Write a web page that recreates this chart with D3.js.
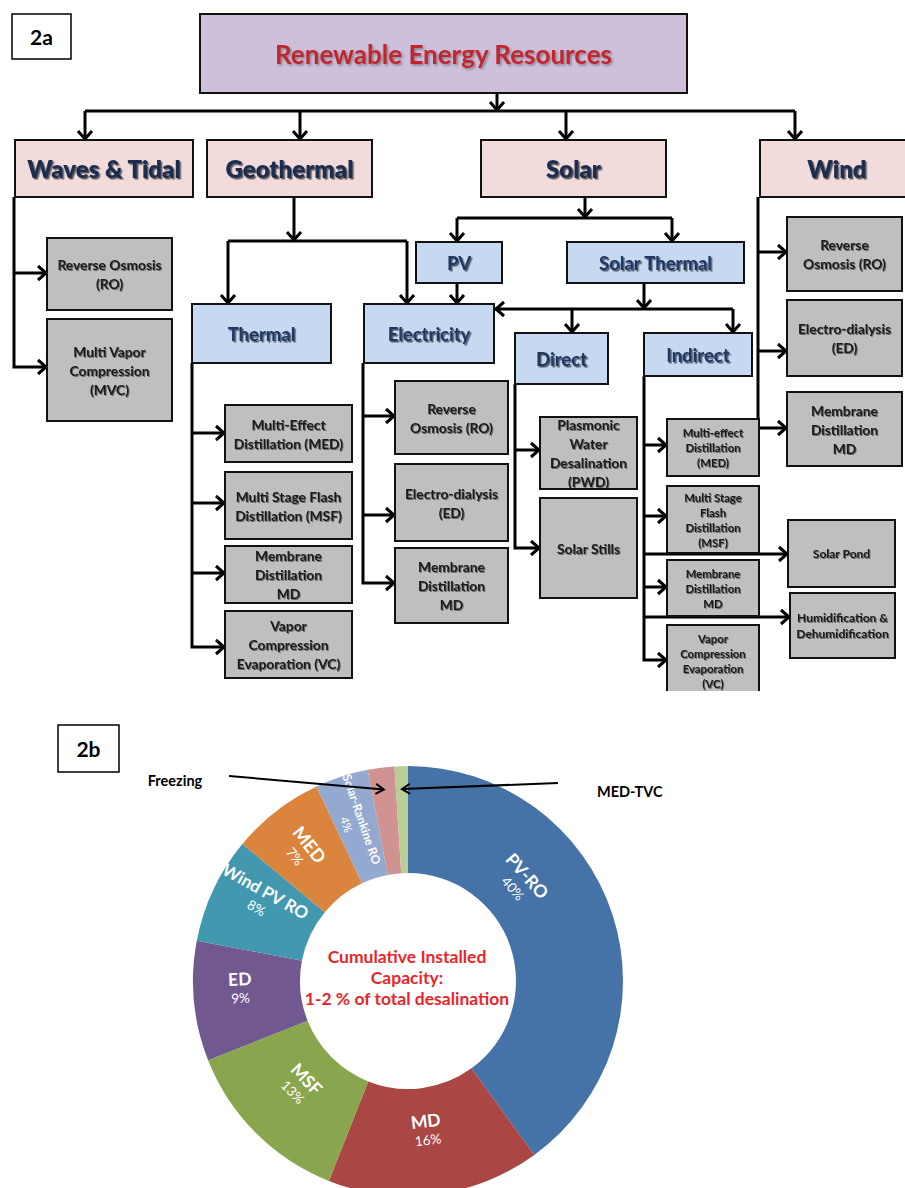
<!DOCTYPE html>
<html><head><meta charset="utf-8">
<script src="https://cdn.jsdelivr.net/npm/d3@7"></script>
<style>
html,body{margin:0;padding:0;background:#fff;}
svg{display:block;font-family:Lato,"Open Sans",sans-serif;}
</style></head><body>
<svg id="fig" width="905" height="1188"></svg>
<script>
// ---------------- Panel 2b data ----------------
const techs  = ["PV-RO","MD","MSF","ED","Wind PV RO","MED","Solar-Rankine RO","Freezing","MED-TVC"];
const shares = [40,16,13,9,8,7,4,2,1];
const sliceColors = ["#4572A7","#AA4643","#89A54E","#71588F","#4198AF","#DB843D","#93A9CF","#D19392","#B9CD96"];
const centerLines = ["Cumulative Installed","Capacity:","1-2 % of total desalination"];
const calloutNames = ["Freezing","MED-TVC"];

// ---------------- Panel 2a data ----------------
const rootLabel = "Renewable Energy Resources";
const sourceLabels = ["Waves & Tidal","Geothermal","Solar","Wind"];
const branchLabels = ["PV","Solar Thermal","Thermal","Electricity","Direct","Indirect"];
const wavesTech   = [["Reverse Osmosis","(RO)"],["Multi Vapor","Compression","(MVC)"]];
const thermalTech = [["Multi-Effect","Distillation (MED)"],["Multi Stage Flash","Distillation (MSF)"],["Membrane","Distillation","MD"],["Vapor","Compression","Evaporation (VC)"]];
const elecTech    = [["Reverse","Osmosis (RO)"],["Electro-dialysis","(ED)"],["Membrane","Distillation","MD"]];
const directTech  = [["Plasmonic","Water","Desalination","(PWD)"],["Solar Stills"]];
const indirectTech= [["Multi-effect","Distillation","(MED)"],["Multi Stage","Flash","Distillation","(MSF)"],["Membrane","Distillation","MD"],["Vapor","Compression","Evaporation","(VC)"]];
const indirectOther=[["Solar Pond"],["Humidification &","Dehumidification"]];
const windTech    = [["Reverse","Osmosis (RO)"],["Electro-dialysis","(ED)"],["Membrane","Distillation","MD"]];

// ---------------- layout (diagram geometry) ----------------
const L = {
  root:[200,14,487,79],
  src:[[15,140,178,57],[207,140,165,57],[481,140,185,57],[760,140,154,57]],
  branch:[[416,242,86,41],[567,242,177,41],[192,304,139,59],[364,304,130,59],[515,333,93,51],[644,333,108,43]],
  waves:[[47,238,125,72],[47,319,125,102]],
  thermal:[[225,405,127,57],[225,472,127,67],[225,546,127,57],[225,611,127,67]],
  elec:[[395,381,113,73],[395,464,113,77],[395,548,113,75]],
  direct:[[540,417,97,72],[540,498,97,100]],
  indirect:[[667,419,92,57],[667,486,92,67],[667,560,92,56],[667,625,92,72]],
  other:[[788,520,107,67],[790,593,105,65]],
  wind:[[787,217,115,74],[787,300,115,76],[787,392,115,74]]
};
// connector polylines: [points, arrowAtEnd]
const edges = [
  [[[497,93],[497,111]],1],[[[85,111],[795,111]],0],
  [[[85,111],[85,140]],1],[[[300,111],[300,140]],1],[[[566,111],[566,140]],1],[[[795,111],[795,140]],1],
  [[[14,197],[14,367],[47,367]],1],[[[14,273],[47,273]],1],
  [[[294,197],[294,241]],1],[[[228,241],[407,241]],0],[[[228,241],[228,304]],1],[[[407,241],[407,304]],1],
  [[[585,197],[585,218]],1],[[[457,218],[672,218]],0],[[[457,218],[457,242]],1],[[[672,218],[672,242]],1],
  [[[457,283],[457,304]],1],
  [[[644,283],[644,309]],1],[[[733,309],[495,309]],1],[[[572,309],[572,333]],1],[[[733,309],[733,333]],1],
  [[[758,197],[758,428],[787,428]],1],[[[758,252],[787,252]],1],[[[758,351],[787,351]],1],
  [[[192,363],[192,647],[225,647]],1],[[[192,433],[225,433]],1],[[[192,503],[225,503]],1],[[[192,573],[225,573]],1],
  [[[363,363],[363,583],[395,583]],1],[[[363,416],[395,416]],1],[[[363,515],[395,515]],1],
  [[[515,384],[515,548],[540,548]],1],[[[515,450],[540,450]],1],
  [[[644,376],[644,660],[667,660]],1],[[[644,445],[667,445]],1],[[[644,516],[667,516]],1],[[[644,587],[667,587]],1],
  [[[644,554],[788,554]],1],[[[644,617],[790,617]],1]
];

const styles = {
  root:{fill:"#CCC0DA",size:26,lh:30,color:"#C0272D",weight:700,filter:"shR"},
  src:{fill:"#F2DCDB",size:24,lh:26,color:"#1F2F50",weight:800,filter:"shT"},
  blue:{fill:"#C6D9F1",size:18.5,lh:20,color:"#1F3864",weight:700,filter:"shT"},
  gray:{fill:"#BFBFBF",size:13.8,lh:19,color:"#1a1a1a",weight:700,filter:"shG"},
  small:{fill:"#BFBFBF",size:11.3,lh:15,color:"#1a1a1a",weight:700,filter:"shG"},
  mid:{fill:"#BFBFBF",size:12,lh:16,color:"#1a1a1a",weight:700,filter:"shG"}
};

const svg = d3.select("#fig");
const defs = svg.append("defs");
function shadow(id,dx,dy,sd,op){
  const f = defs.append("filter").attr("id",id).attr("x","-20%").attr("y","-40%").attr("width","140%").attr("height","180%");
  f.append("feDropShadow").attr("dx",dx).attr("dy",dy).attr("stdDeviation",sd).attr("flood-color","#000").attr("flood-opacity",op);
}
shadow("shR",1.5,1.5,0.8,0.35);
shadow("shT",1.5,1.5,0.7,0.6);
shadow("shG",1,1,0.6,0.45);
defs.append("clipPath").attr("id","clipA").append("rect").attr("x",0).attr("y",0).attr("width",905).attr("height",691);

// ---------------- Panel 2a ----------------
const A = svg.append("g").attr("clip-path","url(#clipA)");

function box(rect, lines, st){
  const s = styles[st];
  const [x,y,w,h] = rect;
  A.append("rect").attr("x",x).attr("y",y).attr("width",w).attr("height",h)
    .attr("fill",s.fill).attr("stroke","#111").attr("stroke-width",2);
  const cy = y + h/2, n = lines.length;
  const t = A.append("text").attr("text-anchor","middle").attr("font-size",s.size)
    .attr("font-weight",s.weight).attr("fill",s.color).attr("filter",`url(#${s.filter})`);
  lines.forEach((ln,i)=>{
    t.append("tspan").attr("x",x+w/2).attr("y",cy + (i-(n-1)/2)*s.lh).attr("dominant-baseline","central").text(ln);
  });
}

// connectors
const line = d3.line();
edges.forEach(([pts,arrow])=>{
  A.append("path").attr("d",line(pts)).attr("fill","none").attr("stroke","#000").attr("stroke-width",3)
    .attr("stroke-linejoin","miter");
  if(arrow){
    const [x1,y1] = pts[pts.length-2], [x2,y2] = pts[pts.length-1];
    const ang = Math.atan2(y2-y1,x2-x1)*180/Math.PI;
    A.append("path").attr("d","M-9,-7L-1,0L-9,7").attr("fill","none").attr("stroke","#000")
      .attr("stroke-width",3).attr("stroke-linejoin","miter")
      .attr("transform",`translate(${x2},${y2}) rotate(${ang})`);
  }
});

box(L.root,[rootLabel],"root");
sourceLabels.forEach((s,i)=>box(L.src[i],[s],"src"));
branchLabels.forEach((s,i)=>box(L.branch[i],[s],"blue"));
wavesTech.forEach((s,i)=>box(L.waves[i],s,"gray"));
thermalTech.forEach((s,i)=>box(L.thermal[i],s,"gray"));
elecTech.forEach((s,i)=>box(L.elec[i],s,"gray"));
directTech.forEach((s,i)=>box(L.direct[i],s,"gray"));
indirectTech.forEach((s,i)=>box(L.indirect[i],s,"small"));
indirectOther.forEach((s,i)=>box(L.other[i],s,"mid"));
windTech.forEach((s,i)=>box(L.wind[i],s,"gray"));

// panel tags
function tag(x,y,w,h,txt){
  svg.append("rect").attr("x",x).attr("y",y).attr("width",w).attr("height",h).attr("fill","#fff").attr("stroke","#000").attr("stroke-width",1.5);
  svg.append("text").attr("x",x+w/2).attr("y",y+h/2).attr("text-anchor","middle").attr("dominant-baseline","central")
    .attr("font-size",21).attr("font-weight",700).attr("fill","#000").text(txt);
}
tag(12,14,59,45,"2a");
tag(58,725,61,47,"2b");

// ---------------- Panel 2b : donut ----------------
const cx = 408, cy = 981, R = 215, r0 = 108;
const B = svg.append("g").attr("transform",`translate(${cx},${cy})`);
const arcs = d3.pie().sort(null).value(d=>d)(shares);
const arc = d3.arc().innerRadius(r0).outerRadius(R);
B.selectAll("path.slice").data(arcs).join("path").attr("class","slice")
  .attr("d",arc).attr("fill",(d,i)=>sliceColors[i]);

// in-slice labels
const labelMode  = ["tan","tan","tan","rad","rad","rad","rad",null,null];
const labelShift = [-23.4,0,1,3,4,-1,-1,0,0];   // degrees, PV-RO label sits high in its slice
const labelRad   = {tan:150, rad:168};
const nameSize   = [17.5,17.5,17.5,17.5,17,18,12,0,0];
const pctSize    = [13.5,13.5,13.5,13.5,13.5,13.5,11.5,0,0];
arcs.forEach((d,i)=>{
  if(!labelMode[i]) return;
  const a = ((d.startAngle+d.endAngle)/2)*180/Math.PI + labelShift[i];
  const rr = labelRad[labelMode[i]];
  const x = rr*Math.sin(a*Math.PI/180), y = -rr*Math.cos(a*Math.PI/180);
  let rot;
  if(labelMode[i]==="tan"){ rot = a; if(rot>90 && rot<270) rot -= 180; }
  else rot = a - 270;
  const g = B.append("g").attr("transform",`translate(${x},${y}) rotate(${rot})`);
  g.append("text").attr("text-anchor","middle").attr("dominant-baseline","central").attr("y",-9)
    .attr("font-size",nameSize[i]).attr("font-weight",700).attr("fill","#fff").text(techs[i]);
  g.append("text").attr("text-anchor","middle").attr("dominant-baseline","central").attr("y",nameSize[i]>13?10:7)
    .attr("font-size",pctSize[i]).attr("fill","#fff").text(shares[i]+"%");
});

// centre text
centerLines.forEach((t,i)=>{
  B.append("text").attr("x",-1).attr("y",-25+i*21).attr("text-anchor","middle").attr("dominant-baseline","central")
    .attr("font-size",17.5).attr("font-weight",700).attr("fill","#E8262A").text(t);
});

// callouts for the two thin slices
function callout(txt, tx, ty, anchor, x1,y1, x2,y2){
  svg.append("text").attr("x",tx).attr("y",ty).attr("text-anchor",anchor).attr("dominant-baseline","central")
    .attr("font-size",14.5).attr("font-weight",700).attr("fill","#000").text(txt);
  svg.append("line").attr("x1",x1).attr("y1",y1).attr("x2",x2).attr("y2",y2).attr("stroke","#000").attr("stroke-width",2);
  const ang = Math.atan2(y2-y1,x2-x1)*180/Math.PI;
  svg.append("path").attr("d","M-8,-5L0,0L-8,5").attr("fill","none").attr("stroke","#000").attr("stroke-width",2)
    .attr("transform",`translate(${x2},${y2}) rotate(${ang})`);
}
// arrow tips sit inside the respective slices just below the outer rim
function rimPoint(i, rr){
  const d = arcs[i]; const a = (d.startAngle+d.endAngle)/2;
  return [cx + rr*Math.sin(a), cy - rr*Math.cos(a)];
}
const fz = rimPoint(7, 193), mt = rimPoint(8, 192);
callout(calloutNames[0],175,780,"middle",229,776,fz[0],fz[1]);
callout(calloutNames[1],597,791,"start",558,783,mt[0],mt[1]);
</script></body></html>
